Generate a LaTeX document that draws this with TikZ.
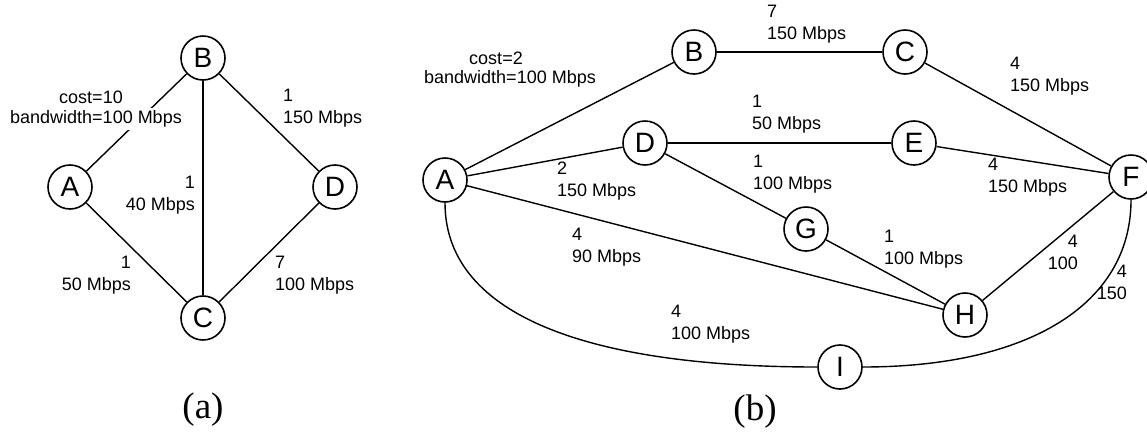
\documentclass[tikz,border=0pt]{standalone}
\usepackage{fontspec}
\setmainfont{Liberation Sans}
\newfontfamily\capfont{Liberation Serif}
\begin{document}
\begin{tikzpicture}[x=1pt,y=-1pt,
  vtx/.style={draw, circle, line width=1.6pt, minimum size=44pt, inner sep=0pt, font=\fontsize{28}{28}\selectfont},
  edge/.style={line width=1.4pt},
  lbl/.style={inner sep=0pt, font=\fontsize{18}{22}\selectfont},
  lblL/.style={lbl, anchor=west, align=left},
  lblR/.style={lbl, anchor=east, align=right},
  lblC/.style={lbl, anchor=center, align=center},
  captxt/.style={font=\capfont\fontsize{37}{37}\selectfont, inner sep=0pt}]
\useasboundingbox (0,0) rectangle (1147,432);

% ---------- (a) ----------
\node[vtx] (aB) at (203,58) {B};
\node[vtx] (aA) at (70,187) {A};
\node[vtx] (aD) at (335,187) {D};
\node[vtx] (aC) at (203,318) {C};
\draw[edge] (aA) -- (aB);
\draw[edge] (aB) -- (aC);
\draw[edge] (aB) -- (aD);
\draw[edge] (aA) -- (aC);
\draw[edge] (aC) -- (aD);
\node[lblC] (la1a) at (91,97) {cost=10};
\node[lblC, fill=white, inner ysep=3pt] (la1b) at (96,119) {bandwidth=100 Mbps};
\node[lblL] (la2) at (283,108) {1\\150 Mbps};
\node[lblR] (la3) at (195,195) {1\\40 Mbps};
\node[lblR] (la4) at (131,275) {1\\50 Mbps};
\node[lblL] (la5) at (275,275) {7\\100 Mbps};
\node[captxt] (capa) at (203,410) {(a)};

% ---------- (b) ----------
\node[vtx] (rA) at (445,180) {A};
\node[vtx] (rB) at (694,52) {B};
\node[vtx] (rC) at (905,52) {C};
\node[vtx] (rD) at (645,143) {D};
\node[vtx] (rE) at (914,143) {E};
\node[vtx] (rF) at (1131,177) {F};
\node[vtx] (rG) at (806,229) {G};
\node[vtx] (rH) at (965,315) {H};
\node[vtx] (rI) at (840,367) {I};
\draw[edge] (rA) -- (rB);
\draw[edge] (rA) -- (rD);
\draw[edge] (rA) -- (rH);
\draw[edge] (rB) -- (rC);
\draw[edge] (rC) -- (rF);
\draw[edge] (rD) -- (rE);
\draw[edge] (rD) -- (rG);
\draw[edge] (rE) -- (rF);
\draw[edge] (rG) -- (rH);
\draw[edge] (rH) -- (rF);
\draw[edge] (rA.south) .. controls +(0,107) and +(-242,0) .. (rI.west);
\draw[edge] (rI.east) .. controls +(165,0) and +(0,105) .. (rF.south);
\node[lblC] (lb1a) at (496,58) {cost=2};
\node[lblC] (lb1b) at (510,79) {bandwidth=100 Mbps};
\node[lblL] (lb2) at (767,24) {7\\150 Mbps};
\node[lblL] (lb3) at (1010,76) {4\\150 Mbps};
\node[lblL] (lb4) at (752,114) {1\\50 Mbps};
\node[lblL] (lb5) at (988,177) {4\\150 Mbps};
\node[lblL] (lb6) at (753,174) {1\\100 Mbps};
\node[lblL] (lb7) at (557,181) {2\\150 Mbps};
\node[lblL] (lb8) at (572,247) {4\\90 Mbps};
\node[lblL] (lb9) at (884,249) {1\\100 Mbps};
\node[lblR] (lb10) at (1078,252) {4\\100};
\node[lblR] (lb11) at (1127,282) {4\\150};
\node[lblL] (lb12) at (671,324) {4\\100 Mbps};
\node[captxt] (capb) at (755,412) {(b)};
\end{tikzpicture}
\end{document}
